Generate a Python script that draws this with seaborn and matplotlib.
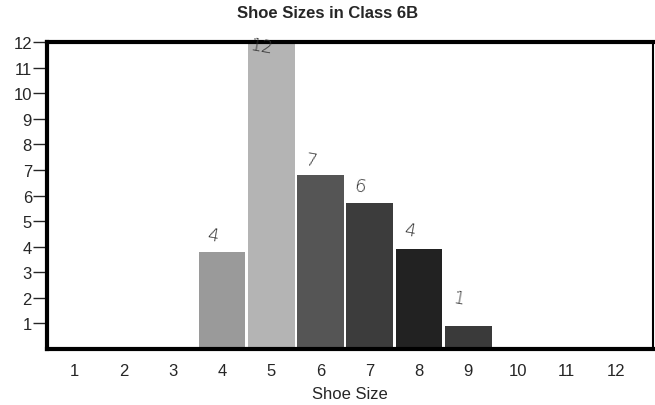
import matplotlib
matplotlib.use("Agg")
import matplotlib.pyplot as plt
import seaborn as sns
import pandas as pd

# values (bars are drawn a touch short of the pencilled counts)
shoe_sizes = [4, 5, 6, 7, 8, 9]
bar_heights = [3.8, 12, 6.8, 5.7, 3.9, 0.9]
pencil_counts = ["4", "12", "7", "6", "4", "1"]
x_ticks = list(range(1, 13))
y_ticks = list(range(1, 13))
bar_colors = ["#9a9a9a", "#b4b4b4", "#555555", "#3c3c3c", "#222222", "#3a3a3a"]

sns.set_style("white")
plt.rcParams["font.family"] = ["Liberation Sans", "DejaVu Sans"]

df = pd.DataFrame({"size": shoe_sizes, "count": bar_heights})

fig = plt.figure(figsize=(6.55, 4.06), dpi=100)
ax = fig.add_axes([0.072, 0.138, 0.925, 0.756])

sns.barplot(data=df, x="size", y="count", hue="size", palette=bar_colors,
            native_scale=True, width=0.95, linewidth=0, legend=False, ax=ax)

# pencil marks written over the bars
offsets = [0.25, 0.45, 0.2, 0.3, 0.35, 0.7]
for xs, h, lab, dy in zip(shoe_sizes, bar_heights, pencil_counts, offsets):
    ax.text(xs - 0.2, min(h + dy, 11.4), lab, fontsize=13, color="#333333",
            family="DejaVu Sans", fontweight="light", rotation=-10,
            ha="center", va="bottom")

ax.set_xlim(0.45, 12.75)
ax.set_ylim(0, 12)
ax.set_xticks(x_ticks)
ax.set_yticks(y_ticks)
ax.tick_params(axis="x", length=0, labelsize=12, pad=10)
ax.tick_params(axis="y", length=10, width=1, direction="out", labelsize=12,
               left=True, pad=1)
for side in ["left", "bottom", "top"]:
    ax.spines[side].set_linewidth(3)
ax.spines["right"].set_linewidth(1.5)
for sp in ax.spines.values():
    sp.set_color("black")

ax.set_xlabel("Shoe Size", fontsize=12, labelpad=6)
ax.set_ylabel("")
fig.suptitle("Shoe Sizes in Class 6B", fontsize=12, fontweight="bold", y=0.985)

fig.savefig("out.png", dpi=100)
